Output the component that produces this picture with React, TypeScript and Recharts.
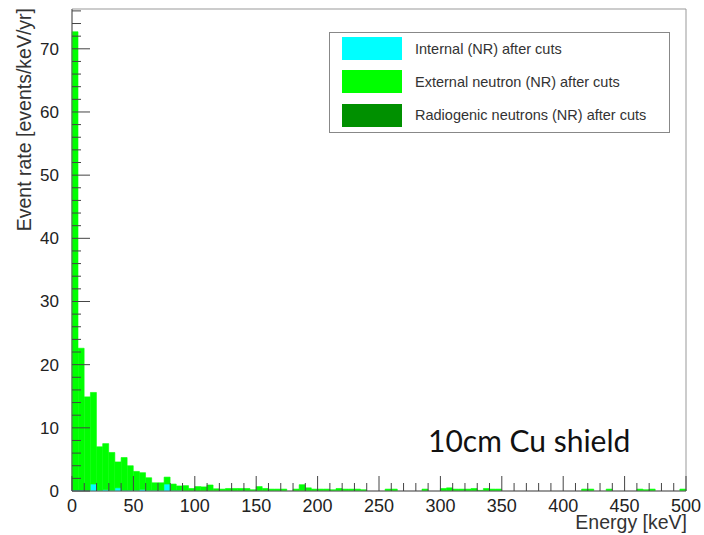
import { BarChart, Bar, XAxis, YAxis, Legend, ReferenceArea } from 'recharts';

// 5 keV bins, 0-500 keV
const binStart: number[] = Array.from({ length: 100 }, (_, i) => i * 5);

// events/keV/yr
const internal: number[] = [
  0.15, 0.15, 0.1, 1.1, 0.1, 0.2, 0.1, 0.5, 0.1, 0.1,
  0.1, 0.25, 0.1, 0.1, 0.1, 1.1, 0.1, 0.1, 0, 0,
  0, 0, 0, 0, 0, 0, 0, 0, 0, 0,
  0, 0, 0, 0, 0, 0, 0, 0, 0, 0,
  0, 0, 0, 0, 0, 0, 0, 0, 0, 0,
  0, 0, 0, 0, 0, 0, 0, 0, 0, 0,
  0, 0, 0, 0, 0, 0, 0, 0, 0, 0,
  0, 0, 0, 0, 0, 0, 0, 0, 0, 0,
  0, 0, 0, 0, 0, 0, 0, 0, 0, 0,
  0, 0, 0, 0, 0, 0, 0, 0, 0, 0,
];

const external: number[] = [
  72.55, 22.45, 14.8, 14.5, 6.9, 7.3, 6.0, 4.1, 5.2, 3.9,
  3.0, 2.65, 2.0, 1.2, 1.2, 1.1, 1.0, 0.7, 0.85, 0.4,
  0.7, 0.65, 0.95, 0.35, 0.3, 0.4, 0.4, 0.4, 0.4, 0.2,
  0.7, 0.4, 0.3, 0.3, 0.3, 0, 0.3, 1.0, 0.5, 0.3,
  0.3, 0.3, 0.2, 0.4, 0.3, 0.3, 0.3, 0.2, 0, 0,
  0, 0.3, 0.3, 0, 0, 0, 0, 0.3, 0, 0,
  0.4, 0.5, 0.3, 0.3, 0.3, 0.4, 0.1, 0.4, 0.3, 0.3,
  0, 0, 0, 0, 0, 0, 0, 0, 0, 0,
  0, 0, 0, 0.3, 0.3, 0, 0, 0.3, 0, 0,
  0, 0, 0.3, 0.2, 0.3, 0, 0, 0, 0, 0.3,
];

const radiogenic: number[] = [
  0, 0, 0, 0, 0, 0, 0, 0, 0, 0,
  0, 0, 0, 0, 0, 0, 0, 0, 0, 0,
  0, 0, 0, 0, 0, 0, 0, 0, 0, 0,
  0, 0, 0, 0, 0, 0, 0, 0, 0, 0,
  0, 0, 0, 0, 0, 0, 0, 0, 0, 0,
  0, 0, 0, 0, 0, 0, 0, 0, 0, 0,
  0, 0, 0, 0, 0, 0, 0, 0, 0, 0,
  0, 0, 0, 0, 0, 0, 0, 0, 0, 0,
  0, 0, 0, 0, 0, 0, 0, 0, 0, 0,
  0, 0, 0, 0, 0, 0, 0, 0, 0, 0,
];

const xTicks: number[] = Array.from({ length: 51 }, (_, i) => i * 10);
const yTicks: number[] = Array.from({ length: 39 }, (_, i) => i * 2);
const Y_MAX = 76.3;

const seriesList = [
  { key: 'internal', name: 'Internal (NR) after cuts', color: '#00ffff' },
  { key: 'external', name: 'External neutron (NR) after cuts', color: '#00ff00' },
  { key: 'radiogenic', name: 'Radiogenic neutrons (NR) after cuts', color: '#009000' },
];

const data = binStart.map((lo, i) => ({
  bin: lo,
  center: lo + 2.5,
  internal: internal[i],
  external: external[i],
  radiogenic: radiogenic[i],
}));

const FONT = '"Liberation Sans", Arial, Helvetica, sans-serif';
const TICK_COLOR = '#444';

const XTick = ({ x, y, payload }: any) => {
  const major = payload.value % 50 === 0;
  return (
    <g>
      <line x1={x} x2={x} y1={y} y2={y - (major ? 15 : 8)} stroke={TICK_COLOR} strokeWidth={1} />
      {major && (
        <text x={x} y={y + 21} textAnchor="middle" fontSize={18} fill="#222" fontFamily={FONT}>
          {payload.value}
        </text>
      )}
    </g>
  );
};

const YTick = ({ x, y, payload }: any) => {
  const major = payload.value % 10 === 0;
  return (
    <g>
      <line x1={x} x2={x + (major ? 18 : 9)} y1={y} y2={y} stroke={TICK_COLOR} strokeWidth={1} />
      {major && (
        <text x={x - 13} y={y + 6} textAnchor="end" fontSize={17} fill="#222" fontFamily={FONT}>
          {payload.value}
        </text>
      )}
    </g>
  );
};

const LegendBox = () => (
  <div
    style={{
      boxSizing: 'border-box',
      width: 341,
      height: 101,
      border: '1px solid #888',
      background: '#fff',
      padding: '0 0 0 12px',
      fontFamily: FONT,
      fontSize: 14.5,
      color: '#333',
    }}
  >
    <div style={{ marginTop: -1 }}>
      {seriesList.map((s) => (
        <div key={s.key} style={{ display: 'flex', alignItems: 'center', height: 33.3 }}>
          <div style={{ width: 60, height: 23, background: s.color, marginRight: 13 }} />
          <span>{s.name}</span>
        </div>
      ))}
    </div>
  </div>
);

export default function App() {
  return (
    <div style={{ position: 'absolute', left: 0, top: 0, width: 704, height: 535, background: '#fff' }}>
      <BarChart
        width={704}
        height={535}
        data={data}
        margin={{ top: 9, right: 18, bottom: 43, left: 71 }}
        barCategoryGap={0}
        barGap={0}
      >
        <XAxis
          xAxisId="e"
          dataKey="center"
          type="number"
          domain={[0, 500]}
          ticks={xTicks}
          allowDataOverflow
          interval={0}
          height={1}
          tickSize={0}
          tickMargin={0}
          tickLine={false}
          tick={<XTick />}
          axisLine={{ stroke: '#666' }}
          label={{
            content: ({ viewBox }: any) => (
              <g>
                <text
                  x={viewBox.x + viewBox.width + 1}
                  y={viewBox.y + 38}
                  textAnchor="end"
                  fontSize={19.5}
                  fill="#333"
                  fontFamily={FONT}
                >
                  Energy [keV]
                </text>
                <text x={428} y={452} fontSize={30} fill="#111" fontFamily="Lato, 'Open Sans', sans-serif">
                  10cm Cu shield
                </text>
              </g>
            ),
          }}
        />
        <XAxis xAxisId="bins" dataKey="bin" type="category" hide height={0} />
        <YAxis
          domain={[0, Y_MAX]}
          ticks={yTicks}
          allowDataOverflow
          interval={0}
          width={1}
          tickSize={0}
          tickMargin={0}
          tickLine={false}
          tick={<YTick />}
          axisLine={{ stroke: '#666' }}
          label={{
            content: ({ viewBox }: any) => (
              <text
                x={31}
                y={viewBox.y - 1}
                transform={`rotate(-90, 31, ${viewBox.y - 1})`}
                textAnchor="end"
                fontSize={19.5}
                fill="#333"
                fontFamily={FONT}
              >
                Event rate [events/keV/yr]
              </text>
            ),
          }}
        />
        <ReferenceArea
          xAxisId="e"
          x1={0}
          x2={500}
          y1={0}
          y2={Y_MAX}
          fill="none"
          stroke="#999"
          strokeWidth={1}
          ifOverflow="extendDomain"
        />
        {seriesList.map((s) => (
          <Bar
            key={s.key}
            xAxisId="bins"
            dataKey={s.key}
            name={s.name}
            stackId="h"
            fill={s.color}
            stroke={s.color}
            strokeWidth={0.6}
            isAnimationActive={false}
          />
        ))}
        <Legend
          layout="vertical"
          align="center"
          verticalAlign="middle"
          content={() => <LegendBox />}
          wrapperStyle={{ left: 329, top: 32, width: 341, height: 101 }}
        />
      </BarChart>
    </div>
  );
}
